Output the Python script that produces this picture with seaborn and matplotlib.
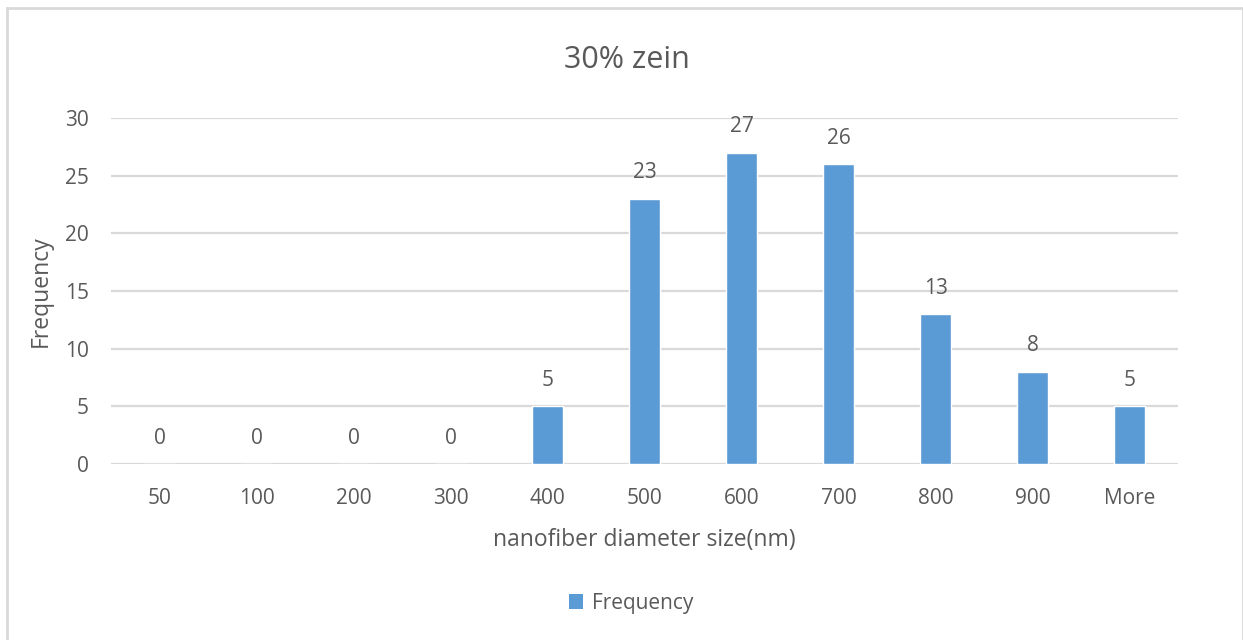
import matplotlib
matplotlib.use("Agg")
import matplotlib.pyplot as plt
import seaborn as sns
import pandas as pd
from matplotlib.patches import Rectangle, Patch

bins = ["50", "100", "200", "300", "400", "500", "600", "700", "800", "900", "More"]
frequency = [0, 0, 0, 0, 5, 23, 27, 26, 13, 8, 5]
y_ticks = [0, 5, 10, 15, 20, 25, 30]

df = pd.DataFrame({"bin": bins, "Frequency": frequency})

sns.set_theme(style="white")
plt.rcParams["font.family"] = ["Open Sans", "DejaVu Sans"]

text_color = "#595959"
grid_color = "#D9D9D9"
bar_color = "#5B9BD5"

fig = plt.figure(figsize=(12.43, 6.4), dpi=100)
fig.patch.set_facecolor("white")
fig.patches.append(Rectangle((7 / 1243, -0.1), 1236 / 1243, 1.1 - 8 / 640,
                             transform=fig.transFigure, fill=False,
                             edgecolor=grid_color, linewidth=2))

ax = fig.add_axes([111 / 1243, 1 - 464 / 640, 1067 / 1243, 346 / 640])
sns.barplot(data=df, x="bin", y="Frequency", order=bins, color=bar_color,
            width=0.31, saturation=1, ax=ax, zorder=3)

ax.set_ylim(0, 30)
ax.set_yticks(y_ticks)
ax.set_xlim(-0.5, len(bins) - 0.5)
for s in ax.spines.values():
    s.set_visible(False)
ax.yaxis.grid(True, color=grid_color, linewidth=1.6, zorder=0)
ax.set_axisbelow(True)
ax.tick_params(axis="both", length=0, labelsize=15, colors=text_color)
ax.tick_params(axis="y", pad=16)
ax.tick_params(axis="x", pad=17)

ax.set_xlabel("nanofiber diameter size(nm)", fontsize=16.5, color=text_color, labelpad=14)
ax.set_ylabel("Frequency", fontsize=16.5, color=text_color, labelpad=9)

for container in ax.containers:
    ax.bar_label(container, labels=[str(v) for v in frequency], padding=11,
                 fontsize=15, color=text_color)

fig.text(627 / 1243, 1 - 60 / 640, "30% zein", ha="center", va="center",
         fontsize=22, color=text_color)

handles = [Patch(facecolor=bar_color, edgecolor="none", label="Frequency")]
fig.legend(handles=handles, loc="center", bbox_to_anchor=(631 / 1243, 1 - 603 / 640),
           frameon=False, fontsize=15, labelcolor=text_color,
           handlelength=0.7, handleheight=0.7, handletextpad=0.4)

fig.savefig("out.png", dpi=100, facecolor="white")
